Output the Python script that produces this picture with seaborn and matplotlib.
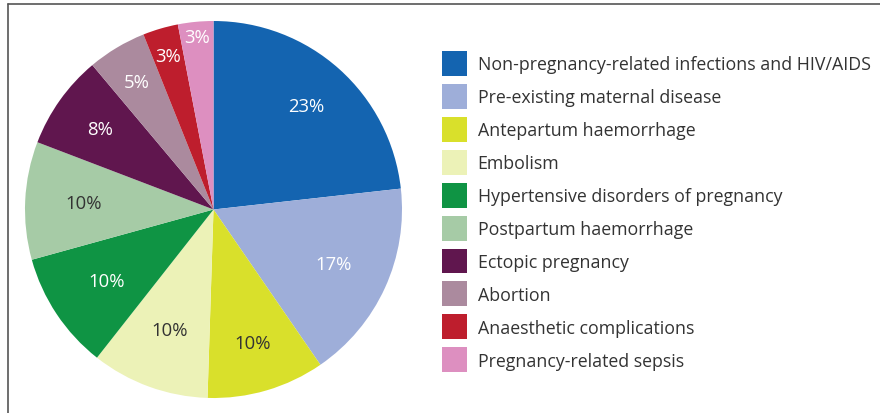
import numpy as np
import matplotlib
matplotlib.use("Agg")
import matplotlib.pyplot as plt
import matplotlib.patches as mpatches
import seaborn as sns

causes = [
    "Non-pregnancy-related infections and HIV/AIDS",
    "Pre-existing maternal disease",
    "Antepartum haemorrhage",
    "Embolism",
    "Hypertensive disorders of pregnancy",
    "Postpartum haemorrhage",
    "Ectopic pregnancy",
    "Abortion",
    "Anaesthetic complications",
    "Pregnancy-related sepsis",
]
shares = [23, 17, 10, 10, 10, 10, 8, 5, 3, 3]
colors = ["#1464b0", "#9eaed9", "#d9e02b", "#ecf2b7", "#0f9444",
          "#a6cba6", "#60164e", "#ab8a9e", "#be1e2d", "#dd8fc0"]
label_colors = ["white", "white", "#333333", "#333333", "white",
                "#333333", "white", "white", "white", "white"]
label_dist = [0.74, 0.70, 0.74, 0.68, 0.68, 0.69, 0.74, 0.79, 0.85, 0.92]

sns.set_style("white")
plt.rcParams["font.family"] = ["Open Sans", "DejaVu Sans"]

fig = plt.figure(figsize=(8.8, 4.14), dpi=100)
ax = fig.add_axes([25 / 880, 15 / 414, 377 / 880, 377 / 414])
wedges, _ = ax.pie(shares, colors=colors, startangle=90, counterclock=False,
                   wedgeprops=dict(linewidth=0))
ax.set_xlim(-1, 1)
ax.set_ylim(-1, 1)
ax.set_aspect("equal")

for w, v, c, d in zip(wedges, shares, label_colors, label_dist):
    ang = np.deg2rad((w.theta1 + w.theta2) / 2)
    ax.text(d * np.cos(ang), d * np.sin(ang), f"{v}%", ha="center", va="center",
            fontsize=13.3, color=c)

handles = [mpatches.Patch(facecolor=c, edgecolor="none") for c in colors]
leg = fig.legend(handles, causes, loc="upper left", bbox_to_anchor=(442 / 880, 1 - 52 / 414),
                 frameon=False, fontsize=12.8, handlelength=1.4, handleheight=1.78,
                 labelspacing=0.45, handletextpad=0.6, borderpad=0, borderaxespad=0)
for t in leg.get_texts():
    t.set_color("#333333")

# frame lines on top and left
fig.add_artist(plt.Line2D([8 / 880, 1], [1 - 5 / 414, 1 - 5 / 414], color="#555555", lw=1.2))
fig.add_artist(plt.Line2D([8 / 880, 8 / 880], [0, 1 - 5 / 414], color="#555555", lw=1.2))

fig.savefig("out.png", dpi=100)
